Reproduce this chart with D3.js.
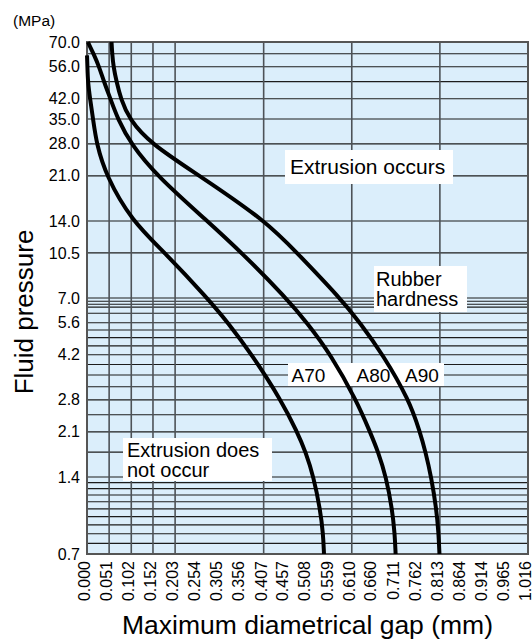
<!DOCTYPE html>
<html>
<head>
<meta charset="utf-8">
<script src="https://cdn.jsdelivr.net/npm/d3@7"></script>
<style>
  html, body { margin: 0; padding: 0; background: #fff; }
  svg { display: block; }
  text { font-family: "Liberation Sans", Arial, Helvetica, sans-serif; fill: #000; }
</style>
</head>
<body>
<svg id="chart" width="532" height="640"></svg>
<script>
// ---------- data ----------
const xTickLabels = [0.000, 0.051, 0.102, 0.152, 0.203, 0.254, 0.305, 0.356, 0.407, 0.457,
                     0.508, 0.559, 0.610, 0.660, 0.711, 0.762, 0.813, 0.864, 0.914, 0.965, 1.016];
const yTickLabels = [70.0, 56.0, 42.0, 35.0, 28.0, 21.0, 14.0, 10.5, 7.0, 5.6, 4.2, 2.8, 2.1, 1.4, 0.7];
const xGridValues = [0.051, 0.102, 0.152, 0.203, 0.407, 0.610, 0.813];
const yGridValues = [63, 56, 49, 42, 35, 28, 21, 14, 10.5,
                     7.0, 6.8, 6.62, 6.45, 6.1, 5.6, 5.25, 4.9, 4.55, 4.2, 3.85, 3.5, 3.15, 2.8,
                     2.45, 2.1, 1.75, 1.4, 1.33, 1.26, 1.19, 1.12, 1.05, 0.98, 0.91, 0.84, 0.77];

// curves: [gap (mm), pressure (MPa)]
const curveA70 = [[0.000, 62.1], [0.001, 56], [0.002, 49], [0.007, 42], [0.014, 35], [0.022, 28],
                  [0.044, 21], [0.103, 14], [0.180, 10.5], [0.277, 7.0], [0.325, 5.6], [0.380, 4.2],
                  [0.447, 2.8], [0.484, 2.1], [0.504, 1.75], [0.522, 1.4], [0.537, 1.05],
                  [0.544, 0.84], [0.546, 0.7]];
const curveA80 = [[0.002, 70], [0.015, 63], [0.028, 56], [0.039, 49], [0.054, 42], [0.071, 35],
                  [0.101, 28], [0.161, 21], [0.277, 14], [0.357, 10.5], [0.459, 7.0], [0.507, 5.6],
                  [0.562, 4.2], [0.620, 2.8], [0.652, 2.1], [0.671, 1.75], [0.689, 1.4],
                  [0.703, 1.05], [0.709, 0.84], [0.711, 0.7]];
const curveA90 = [[0.0565, 70], [0.058, 63], [0.061, 56], [0.068, 49], [0.078, 42], [0.097, 35],
                  [0.147, 28], [0.260, 21], [0.412, 14], [0.484, 10.5], [0.583, 7.0], [0.629, 5.6],
                  [0.682, 4.2], [0.742, 2.8], [0.767, 2.1], [0.780, 1.75], [0.793, 1.4],
                  [0.805, 1.05], [0.810, 0.84], [0.812, 0.7]];
const curveNames = ["A70", "A80", "A90"];

// ---------- layout ----------
const svg = d3.select("#chart");
const L = 87, R = 528, T = 42, B = 554;
const x = d3.scaleLinear().domain([0, 1.016]).range([L, R]);
const y = d3.scaleLog().domain([0.7, 70]).range([B, T]);

// background
svg.append("rect").attr("x", L).attr("y", T).attr("width", R - L).attr("height", B - T)
   .attr("fill", "#dbeefb");

// horizontal gridlines
svg.append("g").selectAll("line").data(yGridValues).join("line")
   .attr("x1", L).attr("x2", R)
   .attr("y1", d => y(d)).attr("y2", d => y(d))
   .attr("stroke", "#1c1c1c").attr("stroke-width", 1.1);

// vertical gridlines
svg.append("g").selectAll("line").data(xGridValues).join("line")
   .attr("x1", d => x(d)).attr("x2", d => x(d))
   .attr("y1", T).attr("y2", B)
   .attr("stroke", "#4d5257").attr("stroke-width", 1.6);

// border
svg.append("rect").attr("x", L).attr("y", T).attr("width", R - L).attr("height", B - T)
   .attr("fill", "none").attr("stroke", "#555").attr("stroke-width", 2);

// white label boxes
function box(x0, y0, w, h) {
  svg.append("rect").attr("x", x0).attr("y", y0).attr("width", w).attr("height", h).attr("fill", "#fff");
}
box(285, 150, 168, 34);
box(374, 266, 93, 46);
box(123, 438, 149, 43);
box(288, 363, 156, 23);

// curves
const line = d3.line().x(d => x(d[0])).y(d => y(d[1])).curve(d3.curveBasis);
[curveA70, curveA80, curveA90].forEach((c, i) => {
  svg.append("path").datum(c).attr("d", line)
     .attr("fill", "none").attr("stroke", "#000").attr("stroke-width", 4)
     .attr("stroke-linecap", "butt").attr("class", curveNames[i]);
});

// axes
const yAxis = d3.axisLeft(y).tickValues(yTickLabels).tickFormat(d3.format(".1f")).tickSize(0).tickPadding(7);
const gy = svg.append("g").attr("transform", `translate(${L},0)`).call(yAxis);
gy.select(".domain").remove();
gy.selectAll("text").style("font-size", "16px").attr("font-family", null);

const xAxis = d3.axisBottom(x).tickValues(xTickLabels).tickFormat(d3.format(".3f")).tickSize(0).tickPadding(0);
const gx = svg.append("g").attr("transform", `translate(0,${B})`).call(xAxis);
gx.select(".domain").remove();
gx.selectAll("text").style("font-size", "16px").attr("font-family", null)
  .attr("transform", "rotate(-90)").attr("text-anchor", "end")
  .attr("x", -7).attr("y", 0).attr("dy", "0.15em");

// annotations
function label(txt, x0, yb, size) {
  svg.append("text").attr("x", x0).attr("y", yb).style("font-size", size + "px").text(txt);
}
label("(MPa)", 13, 26, 15.5);
label("Extrusion occurs", 290, 174, 21);
label("Rubber", 376, 285.5, 20);
label("hardness", 376, 305.5, 20);
label("Extrusion does", 127, 456.5, 20);
label("not occur", 127, 477, 20);
label("A70", 291.5, 381.5, 19);
label("A80", 356.5, 381.5, 19);
label("A90", 405, 381.5, 19);

// axis titles
svg.append("text").attr("x", (L + R) / 2).attr("y", 634).attr("text-anchor", "middle")
   .style("font-size", "26.5px").text("Maximum diametrical gap (mm)");
svg.append("text").attr("transform", "translate(33,312) rotate(-90)").attr("text-anchor", "middle")
   .style("font-size", "26px").text("Fluid pressure");
</script>
</body>
</html>
